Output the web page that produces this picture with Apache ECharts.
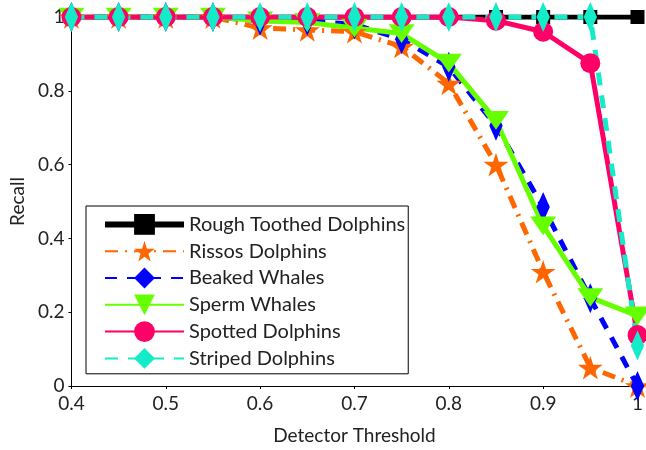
<!DOCTYPE html>
<html>
<head>
<meta charset="utf-8">
<script src="https://cdn.jsdelivr.net/npm/echarts@6/dist/echarts.min.js"></script>
<style>
html,body{margin:0;padding:0;background:#fff;}
#chart{width:646px;height:450px;}
</style>
</head>
<body>
<div id="chart"></div>
<script>
const thresholds = [0.4, 0.45, 0.5, 0.55, 0.6, 0.65, 0.7, 0.75, 0.8, 0.85, 0.9, 0.95, 1.0];
const roughToothed = [1, 1, 1, 1, 1, 1, 1, 1, 1, 1, 1, 1, 1];
const rissos = [1, 1, 1, 1, 0.97, 0.965, 0.96, 0.92, 0.82, 0.60, 0.31, 0.05, 0];
const beaked = [1, 1, 1, 1, 0.99, 0.99, 0.98, 0.94, 0.865, 0.705, 0.485, 0.238, 0];
const sperm = [1, 1, 1, 1, 0.99, 0.985, 0.97, 0.955, 0.875, 0.72, 0.434, 0.24, 0.19];
const spotted = [1, 1, 1, 1, 1, 1, 1, 1, 1, 0.99, 0.96, 0.875, 0.138];
const striped = [1, 1, 1, 1, 1, 1, 1, 1, 1, 1, 1, 1, 0.11];
const seriesNames = ['Rough Toothed Dolphins', 'Rissos Dolphins', 'Beaked Whales', 'Sperm Whales', 'Spotted Dolphins', 'Striped Dolphins'];
const xTicks = ['0.4', '0.5', '0.6', '0.7', '0.8', '0.9', '1'];
const yTicks = ['0', '0.2', '0.4', '0.6', '0.8', '1'];

const FONT = 'Lato';
const TXT = '#222';
const pair = (ys) => thresholds.map((x, i) => [x, ys[i]]);
const STAR = 'path://M50,0 L61,35 L98,35 L68,57 L79,91 L50,70 L21,91 L32,57 L2,35 L39,35 Z';
const TRI_DOWN = 'path://M0,0 L26,0 L13,22 Z';
const DIAMOND = 'path://M10,0 L20,15 L10,30 L0,15 Z';

function mk(name, ys, color, lineType, symbol, size, width) {
  return {
    name: name, type: 'line', data: pair(ys),
    symbol: symbol, symbolSize: size, symbolKeepAspect: true,
    lineStyle: {color: color, width: width, type: lineType},
    itemStyle: {color: color, borderWidth: 0},
    emphasis: {disabled: true}, animation: false
  };
}

const chart = echarts.init(document.getElementById('chart'), null, {renderer: 'canvas'});
chart.setOption({
  animation: false,
  grid: {left: 71, right: 3, top: 17, bottom: 64},
  legend: {
    left: 86, top: 206, orient: 'vertical',
    padding: [8, 3, 5, 16],
    itemWidth: 79, itemHeight: 26, itemGap: 6,
    borderColor: '#000', borderWidth: 1,
    textStyle: {fontFamily: FONT, fontSize: 20, color: TXT},
    data: seriesNames.map((n, i) => i === 0 ? {name: n, lineStyle: {width: 6}} : {name: n})
  },
  xAxis: {
    type: 'value', min: 0.4, max: 1, interval: 0.1,
    name: 'Detector Threshold', nameLocation: 'middle', nameGap: 40,
    nameTextStyle: {fontFamily: FONT, fontSize: 19, color: TXT},
    axisLine: {lineStyle: {color: '#000', width: 1}},
    axisTick: {inside: false, length: 3, lineStyle: {color: '#000'}},
    axisLabel: {fontFamily: FONT, fontSize: 19, color: TXT, margin: 8,
      formatter: (v) => xTicks[Math.round((v - 0.4) * 10)] },
    splitLine: {show: false}
  },
  yAxis: {
    type: 'value', min: 0, max: 1, interval: 0.2,
    name: 'Recall', nameLocation: 'middle', nameGap: 44,
    nameTextStyle: {fontFamily: FONT, fontSize: 19, color: TXT},
    axisLine: {show: true, lineStyle: {color: '#000', width: 1}},
    axisTick: {show: true, inside: false, length: 3, lineStyle: {color: '#000'}},
    axisLabel: {fontFamily: FONT, fontSize: 19, color: TXT, margin: 7,
      formatter: (v) => yTicks[Math.round(v * 5)] },
    splitLine: {show: false}
  },
  series: [
    mk(seriesNames[0], roughToothed, '#000000', 'solid', 'rect', 14, 5),
    mk(seriesNames[1], rissos, '#FF6600', [13, 7, 2, 7], STAR, 25, 5),
    mk(seriesNames[2], beaked, '#0000FF', [12, 10], DIAMOND, [20, 30], 5),
    mk(seriesNames[3], sperm, '#66FF00', 'solid', TRI_DOWN, [26, 22], 5),
    mk(seriesNames[4], spotted, '#FF0066', 'solid', 'circle', 20, 5),
    mk(seriesNames[5], striped, '#14EBC8', [13, 10], DIAMOND, [20, 30], 5)
  ]
});
</script>
</body>
</html>
